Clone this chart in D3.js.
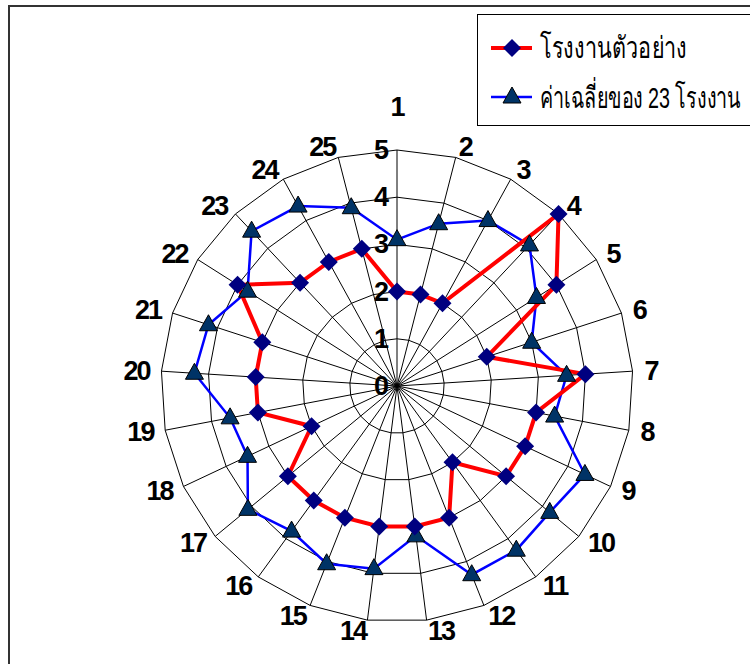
<!DOCTYPE html>
<html lang="th">
<head>
<meta charset="UTF-8">
<title>Radar</title>
<script src="https://d3js.org/d3.v7.min.js"></script>
<style>
  body { margin: 0; background: #fff; }
  svg { display: block; font-family: 'Liberation Sans', Arial, sans-serif; }
  .grid { fill: none; stroke: #000; stroke-width: 1; }
  .lbl { font-size: 27px; font-weight: bold; letter-spacing: -2px; fill: #000; }
  .leg { font-size: 30px; fill: #000; }
</style>
</head>
<body>
<svg width="750" height="664"></svg>
<script>
// ข้อมูล
const categories = ["1","2","3","4","5","6","7","8","9","10","11","12","13",
                    "14","15","16","17","18","19","20","21","22","23","24","25"];
const valueTicks = [0, 1, 2, 3, 4, 5];
const sampleFactory = [2, 2, 2, 5, 4, 2, 4, 3, 3, 3, 2, 3, 3, 3, 3, 3, 3, 2, 3, 3, 3, 4, 3, 3, 3];
const average23 = [3.1, 3.55, 4.0, 4.1, 3.5, 3.0, 3.6, 3.4, 4.4, 4.2, 4.3, 4.3, 3.2,
                   3.9, 4.05, 3.8, 4.1, 3.5, 3.6, 4.3, 4.2, 3.75, 4.5, 4.35, 3.9];
const seriesNames = ["โรงงานตัวอย่าง", "ค่าเฉลี่ยของ 23 โรงงาน"];

const svg = d3.select("svg");
const cx = 397, cy = 386;

// กรอบรอบกราฟ
svg.append("rect").attr("x", 9).attr("y", 6).attr("width", 800).attr("height", 700)
  .attr("fill", "none").attr("stroke", "#333").attr("stroke-width", 2);

const r = d3.scaleLinear().domain([0, 5]).range([0, 236]);
const ang = d3.scaleLinear().domain([0, categories.length]).range([0, 2 * Math.PI]);

const g = svg.append("g").attr("transform", `translate(${cx},${cy})`);
const pt = (i, v) => [r(v) * Math.sin(ang(i)), -r(v) * Math.cos(ang(i))];

// เส้นกริด
valueTicks.slice(1).forEach(v => {
  g.append("path").attr("class", "grid")
    .attr("d", d3.line()(categories.map((c, i) => pt(i, v))) + "Z");
});
g.selectAll(".spoke").data(categories).enter().append("line")
  .attr("class", "grid")
  .attr("x1", 0).attr("y1", 0)
  .attr("x2", (d, i) => pt(i, 5)[0]).attr("y2", (d, i) => pt(i, 5)[1]);

// ป้ายค่าแกน
g.selectAll(".tick").data(valueTicks).enter().append("text")
  .attr("class", "lbl")
  .attr("x", -10).attr("y", d => -r(d))
  .attr("text-anchor", "end").attr("dominant-baseline", "central")
  .text(d => d);

// ป้ายหมวด
g.selectAll(".cat").data(categories).enter().append("text")
  .attr("class", "lbl")
  .attr("text-anchor", "middle").attr("dominant-baseline", "central")
  .text(d => d)
  .each(function(d, i) {
    const s = Math.sin(ang(i)), c = Math.cos(ang(i));
    const w = this.getComputedTextLength();
    const [ex, ey] = pt(i, 5);
    const sg = Math.abs(s) < 0.05 ? 0 : Math.sign(s);
    let x = ex + sg * w / 2 + s * 12;
    let y = ey - c * 11;
    if (i === 0) y -= 32;   // ป้าย 1 ถูกดันขึ้นเหนือเลข 5
    d3.select(this).attr("x", x).attr("y", y);
  });

// เส้นข้อมูล
const line = d3.line();
g.append("path").attr("d", line(average23.map((v, i) => pt(i, v))) + "Z")
  .attr("fill", "none").attr("stroke", "#0000ff").attr("stroke-width", 2.5);
g.append("path").attr("d", line(sampleFactory.map((v, i) => pt(i, v))) + "Z")
  .attr("fill", "none").attr("stroke", "#ff0000").attr("stroke-width", 4);

const diamond = "M0,-9L9,0L0,9L-9,0Z";
const tri = "M0,-10L9,6L-9,6Z";

g.selectAll(".tri").data(average23).enter().append("path")
  .attr("d", tri).attr("fill", "#003366").attr("stroke", "#000").attr("stroke-width", 1)
  .attr("transform", (d, i) => `translate(${pt(i, d)})`);
g.selectAll(".dia").data(sampleFactory).enter().append("path")
  .attr("d", diamond).attr("fill", "#000080")
  .attr("transform", (d, i) => `translate(${pt(i, d)})`);

// คำอธิบาย
const leg = svg.append("g");
leg.append("rect").attr("x", 477.5).attr("y", 14.5).attr("width", 320).attr("height", 111)
  .attr("fill", "#fff").attr("stroke", "#000").attr("stroke-width", 1);
const legY = [48, 97];
const legColor = ["#ff0000", "#0000ff"];
seriesNames.forEach((name, k) => {
  leg.append("line").attr("x1", 491).attr("x2", 532).attr("y1", legY[k]).attr("y2", legY[k])
    .attr("stroke", legColor[k]).attr("stroke-width", k === 0 ? 4 : 2.5);
  leg.append("path").attr("d", k === 0 ? diamond : tri)
    .attr("fill", k === 0 ? "#000080" : "#003366")
    .attr("stroke", k === 0 ? "none" : "#000")
    .attr("transform", `translate(512,${legY[k]})`);
  // บีบตัวอักษรในแนวนอนให้แคบแบบฟอนต์ต้นฉบับ และไม่ให้ล้นขอบขวา
  const t = leg.append("text").attr("class", "leg")
    .attr("dominant-baseline", "central").text(name);
  const w = t.node().getComputedTextLength();
  const sx = Math.min(0.72, 202 / w);
  t.attr("transform", `translate(540,${legY[k]}) scale(${sx},1)`);
});
</script>
</body>
</html>
